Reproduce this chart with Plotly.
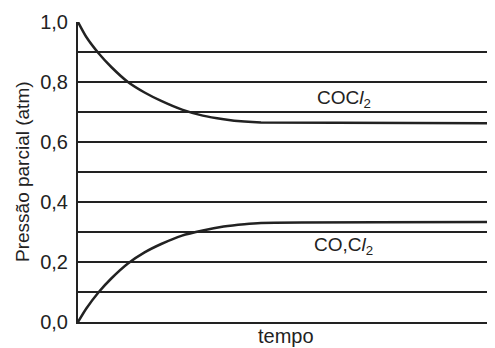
import plotly.graph_objects as go

# Data (time in arbitrary units, 0..100)
t_cocl2 = [0, 2, 5, 8, 12, 16, 20, 25, 30, 35, 40, 44, 100]
p_cocl2 = [1.0, 0.95, 0.895, 0.85, 0.80, 0.765, 0.737, 0.708, 0.688, 0.676, 0.668, 0.665, 0.662]

t_cocl = [0, 2, 5, 8, 12, 16, 20, 25, 30, 35, 40, 44, 100]
p_cocl = [0.0, 0.045, 0.1, 0.145, 0.195, 0.232, 0.26, 0.288, 0.305, 0.318, 0.326, 0.33, 0.333]

y_tickvals = [0.0, 0.2, 0.4, 0.6, 0.8, 1.0]
y_ticktext = ["0,0", "0,2", "0,4", "0,6", "0,8", "1,0"]
y_minor_gridvals = [0.1, 0.3, 0.5, 0.7, 0.9]

label_cocl2 = "COC<i>l</i><sub>2</sub>"
label_cocl = "CO,C<i>l</i><sub>2</sub>"
x_title = "tempo"
y_title = "Pressão parcial (atm)"

font_family = "Liberation Sans, Arial, sans-serif"

fig = go.Figure()
fig.add_trace(go.Scatter(x=t_cocl2, y=p_cocl2, mode="lines",
                         line=dict(color="#222222", width=2.5, shape="spline", smoothing=0.6),
                         showlegend=False, hoverinfo="skip"))
fig.add_trace(go.Scatter(x=t_cocl, y=p_cocl, mode="lines",
                         line=dict(color="#222222", width=2.5, shape="spline", smoothing=0.6),
                         showlegend=False, hoverinfo="skip"))

fig.add_annotation(x=57, y=0.745, text=label_cocl2, showarrow=False,
                   xanchor="left", yanchor="middle",
                   font=dict(size=19, color="#222222", family=font_family))
fig.add_annotation(x=56.3, y=0.255, text=label_cocl, showarrow=False,
                   xanchor="left", yanchor="middle",
                   font=dict(size=19, color="#222222", family=font_family))

# axis titles
fig.add_annotation(x=0.5, y=0, xref="paper", yref="paper", yshift=-1,
                   text=x_title, showarrow=False, xanchor="center", yanchor="top",
                   font=dict(size=20, color="#222222", family=font_family))
fig.add_annotation(x=0, y=0.5, xref="paper", yref="paper", xshift=-56,
                   text=y_title, showarrow=False, xanchor="center", yanchor="middle",
                   textangle=-90,
                   font=dict(size=19, color="#222222", family=font_family))

# The page body adds an 8px offset, so the figure is sized to fill the rest of the window.
fig.update_layout(
    width=487, height=340,
    margin=dict(l=70, r=1, t=14, b=26, autoexpand=False),
    paper_bgcolor="white", plot_bgcolor="white",
    font=dict(family=font_family, size=20, color="#222222"),
    xaxis=dict(range=[0, 100], showgrid=False, zeroline=False, automargin=False,
               showline=True, linecolor="#222222", linewidth=2,
               showticklabels=False, ticks=""),
    yaxis=dict(range=[0, 1], tickvals=y_tickvals, ticktext=y_ticktext, automargin=False,
               showgrid=True, gridcolor="#222222", gridwidth=2,
               minor=dict(tickvals=y_minor_gridvals, showgrid=True,
                          gridcolor="#222222", gridwidth=2, ticks=""),
               zeroline=False, showline=True, linecolor="#222222", linewidth=2,
               ticks="", ticklen=0, ticklabelstandoff=4),
)

fig.write_html("out.html")
